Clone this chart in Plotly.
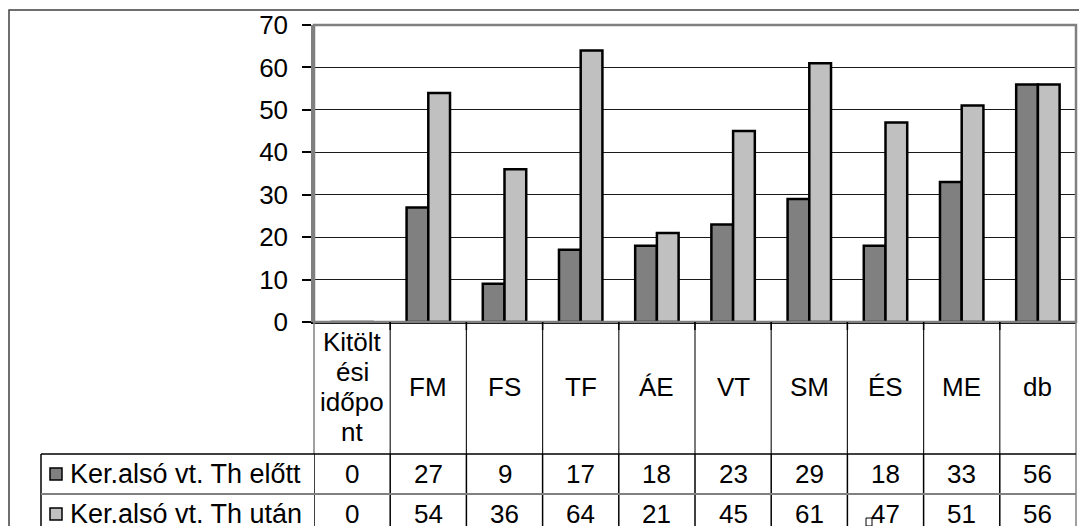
import plotly.graph_objects as go

# Categories and series values
categories = ["Kitöltési időpont", "FM", "FS", "TF", "ÁE", "VT", "SM", "ÉS", "ME", "db"]
first_header_lines = ["Kitölt", "ési", "időpo", "nt"]
series_names = ["Ker.alsó vt. Th előtt", "Ker.alsó vt. Th után"]
before_vals = [0, 27, 9, 17, 18, 23, 29, 18, 33, 56]
after_vals = [0, 54, 36, 64, 21, 45, 61, 47, 51, 56]
y_ticks = [0, 10, 20, 30, 40, 50, 60, 70]

# Canvas and plot-area geometry (pixels)
FIG_W, FIG_H = 1079, 526
PL, PR, PT, PB = 314, 1076, 25, 322
PW, PH = PR - PL, PB - PT

FONT = "Liberation Sans, Arial, sans-serif"
FS = 26
FS_LEG = 27
COL_DARK = "#808080"
COL_LIGHT = "#C0C0C0"


def px_x(px):
    return (px - PL) / PW


def px_y(py):
    return (PB - py) / PH


fig = go.Figure()
fig.add_trace(go.Bar(x=categories, y=before_vals, name=series_names[0],
                     marker=dict(color=COL_DARK, line=dict(color="black", width=2.5))))
fig.add_trace(go.Bar(x=categories, y=after_vals, name=series_names[1],
                     marker=dict(color=COL_LIGHT, line=dict(color="black", width=2.5))))

shapes = []
annotations = []

# Outer chart border (runs off the right and bottom edges)
shapes.append(dict(type="rect", xref="paper", yref="paper",
                   x0=px_x(9), x1=px_x(1090), y0=px_y(540), y1=px_y(10),
                   line=dict(color="#404040", width=1.5), layer="below"))

# Plot-area frame
shapes.append(dict(type="rect", xref="paper", yref="paper", x0=0, x1=1, y0=0, y1=1,
                   line=dict(color="#808080", width=2.5)))

# Data table rows (pixels)
HEAD_TOP, HEAD_BOT = PB, 454
ROW1_BOT, ROW2_BOT = 494, 534
n = len(categories)

# Vertical column separators in the header row
for i in range(1, n):
    shapes.append(dict(type="line", xref="x", yref="paper", x0=i - 0.5, x1=i - 0.5,
                       y0=px_y(HEAD_BOT), y1=0,
                       line=dict(color="#202020", width=1.2)))
# Small ticks below the axis at the category boundaries
for i in range(1, n):
    shapes.append(dict(type="line", xref="x", yref="paper", x0=i - 0.5, x1=i - 0.5,
                       y0=0, y1=px_y(HEAD_TOP + 8),
                       line=dict(color="black", width=1.5)))
# Left and right edges of the header row
shapes.append(dict(type="line", xref="paper", yref="paper", x0=0, x1=0,
                   y0=px_y(HEAD_BOT), y1=0, line=dict(color="#808080", width=1.5)))
shapes.append(dict(type="line", xref="paper", yref="paper", x0=1, x1=1,
                   y0=px_y(ROW2_BOT), y1=0, line=dict(color="#808080", width=1.5)))

# Vertical separators in the value rows
for i in range(0, n):
    shapes.append(dict(type="line", xref="x", yref="paper", x0=i - 0.5, x1=i - 0.5,
                       y0=px_y(ROW2_BOT), y1=px_y(HEAD_BOT),
                       line=dict(color="black", width=1.5)))
# Legend column left edge
shapes.append(dict(type="line", xref="paper", yref="paper", x0=px_x(41), x1=px_x(41),
                   y0=px_y(ROW2_BOT), y1=px_y(HEAD_BOT), line=dict(color="black", width=1.5)))
# Horizontal table lines
shapes.append(dict(type="line", xref="paper", yref="paper", x0=px_x(41), x1=1,
                   y0=px_y(HEAD_BOT), y1=px_y(HEAD_BOT), line=dict(color="black", width=1.5)))
shapes.append(dict(type="line", xref="paper", yref="paper", x0=px_x(41), x1=1,
                   y0=px_y(ROW1_BOT), y1=px_y(ROW1_BOT), line=dict(color="#808080", width=2)))

# Header labels: the first one is wrapped over four lines
head_mid = (HEAD_TOP + HEAD_BOT) / 2
line_step = 30
for k, part in enumerate(first_header_lines):
    cy = head_mid - 1 + (k - (len(first_header_lines) - 1) / 2) * line_step
    annotations.append(dict(x=categories[0], y=px_y(cy), xref="x", yref="paper",
                            text=part, showarrow=False, xanchor="center", yanchor="middle",
                            font=dict(family=FONT, size=FS, color="black")))
for cat in categories[1:]:
    annotations.append(dict(x=cat, y=px_y(head_mid - 1), xref="x", yref="paper",
                            text=cat, showarrow=False, xanchor="center", yanchor="middle",
                            font=dict(family=FONT, size=FS, color="black")))

# Value rows with legend keys
for r, (vals, name, col) in enumerate([(before_vals, series_names[0], COL_DARK),
                                        (after_vals, series_names[1], COL_LIGHT)]):
    top = HEAD_BOT if r == 0 else ROW1_BOT
    bot = ROW1_BOT if r == 0 else ROW2_BOT
    cy = (top + bot) / 2
    for cat, v in zip(categories, vals):
        annotations.append(dict(x=cat, y=px_y(cy), xref="x", yref="paper", text=str(v),
                                showarrow=False, xanchor="center", yanchor="middle",
                                font=dict(family=FONT, size=FS, color="black")))
    shapes.append(dict(type="rect", xref="paper", yref="paper",
                       x0=px_x(50), x1=px_x(62), y0=px_y(cy + 6), y1=px_y(cy - 6),
                       fillcolor=col, line=dict(color="black", width=1.5)))
    annotations.append(dict(x=px_x(68), y=px_y(cy), xref="paper", yref="paper", text=name,
                            showarrow=False, xanchor="left", yanchor="middle",
                            font=dict(family=FONT, size=FS_LEG, color="black")))

# Small selection handle next to a table value
shapes.append(dict(type="rect", xref="paper", yref="paper",
                   x0=px_x(866), x1=px_x(872), y0=px_y(526), y1=px_y(518),
                   line=dict(color="black", width=1), fillcolor="white"))

fig.update_layout(
    width=FIG_W, height=FIG_H,
    margin=dict(l=PL, r=FIG_W - PR, t=PT, b=FIG_H - PB, pad=0),
    paper_bgcolor="white", plot_bgcolor="white",
    barmode="group", bargap=0.43, bargroupgap=0,
    showlegend=False,
    font=dict(family=FONT, size=FS, color="black"),
    shapes=shapes, annotations=annotations,
)
fig.update_xaxes(type="category", range=[-0.5, n - 0.5], showticklabels=False,
                 showgrid=False, zeroline=False, showline=True, linecolor="black", linewidth=2,
                 ticks="")
fig.update_yaxes(range=[0, 70], tickvals=y_ticks, showgrid=True, gridcolor="#1a1a1a",
                 gridwidth=1, zeroline=False, showline=True, linecolor="#808080", linewidth=2.5,
                 ticks="outside", ticklen=9, tickcolor="black", tickwidth=1.5,
                 ticklabelstandoff=9,
                 tickfont=dict(family=FONT, size=FS, color="black"))

fig.write_html("out.html")
